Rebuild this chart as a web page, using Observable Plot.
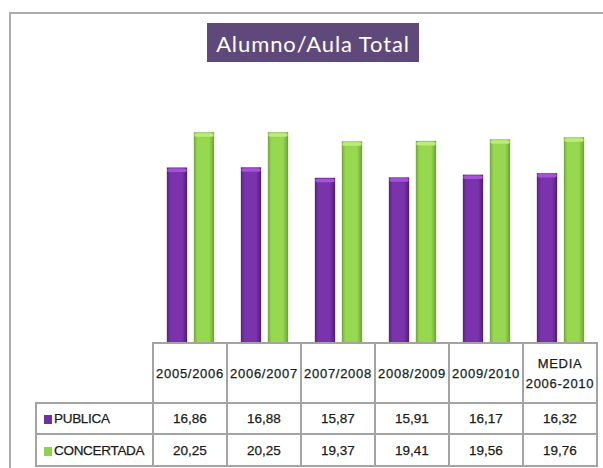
<!DOCTYPE html>
<html>
<head>
<meta charset="utf-8">
<script src="https://cdn.jsdelivr.net/npm/d3@7"></script>
<script src="https://cdn.jsdelivr.net/npm/@observablehq/plot@0.6"></script>
<style>
  html, body { margin: 0; padding: 0; background: #fff; }
  #wrap { position: relative; width: 603px; height: 468px; overflow: hidden; background: #fff; }
  #chart { position: absolute; left: 0; top: 0; }
  #frame { position: absolute; left: 9px; top: 12px; width: 700px; height: 600px;
           border-left: 2px solid #acacac; border-top: 2px solid #acacac; }
  #title { position: absolute; left: 207px; top: 23px; width: 212px; height: 39px;
           background: #5f497a; color: #fff; font-family: Lato, "Noto Sans", sans-serif;
           font-size: 22px; letter-spacing: 0.9px; display: flex; align-items: center;
           justify-content: center; box-sizing: border-box; padding-top: 1px; }
  #tbl { position: absolute; border-collapse: collapse; table-layout: fixed;
         font-family: "Liberation Sans", Arial, sans-serif; color: #1a1a1a;
         -webkit-text-stroke: 0.25px #1a1a1a; }
  #tbl td { border: 2px solid #a3a3a3; text-align: center; padding: 0; white-space: nowrap;
            overflow: visible; box-sizing: border-box; }
  #tbl td.blank { border-top: none; border-left: none; }
  #tbl tr.head td { font-size: 13px; letter-spacing: 0.7px; height: 60px; line-height: 20px; padding-top: 2px; }
  #tbl tr.val td { font-size: 13.5px; }
  #tbl tr.r1 td { height: 31px; }
  #tbl tr.r2 td { height: 32px; }
  #tbl td.lab { text-align: left; padding-left: 7px; font-size: 12.5px; letter-spacing: -0.3px; }
  .sw { display: inline-block; width: 8px; height: 9px; margin-right: 2px; vertical-align: -1px; }
</style>
</head>
<body>
<div id="wrap">
  <div id="chart"></div>
  <div id="title">Alumno/Aula Total</div>
  <div id="frame"></div>
</div>
<script>
const categories = ["2005/2006", "2006/2007", "2007/2008", "2008/2009", "2009/2010", "MEDIA\n2006-2010"];
const series = ["PUBLICA", "CONCERTADA"];
const publica = [16.86, 16.88, 15.87, 15.91, 16.17, 16.32];
const concertada = [20.25, 20.25, 19.37, 19.41, 19.56, 19.76];
const seriesColors = ["#7030a0", "#92d050"];

const rows = [];
categories.forEach((c, i) => {
  rows.push({cat: c, serie: series[0], value: publica[i]});
  rows.push({cat: c, serie: series[1], value: concertada[i]});
});
const pub = rows.filter(d => d.serie === series[0]);
const con = rows.filter(d => d.serie === series[1]);

const plot = Plot.plot({
  width: 603,
  height: 345,
  marginTop: 83,
  marginBottom: 2,
  marginLeft: 150,
  marginRight: 4,
  style: {background: "transparent", overflow: "visible"},
  fx: {domain: categories, padding: 0, axis: null},
  x: {domain: series, paddingInner: 0.27, paddingOuter: 0.5, axis: null},
  y: {domain: [0, 25], axis: null},
  marks: [
    Plot.barY(pub, {fx: "cat", x: "serie", y: "value", fill: "url(#gPub)", stroke: "#4a1a6e", strokeOpacity: 0.35, strokeWidth: 0.8}),
    Plot.barY(con, {fx: "cat", x: "serie", y: "value", fill: "url(#gCon)", stroke: "#5f8f2c", strokeOpacity: 0.35, strokeWidth: 0.8}),
    Plot.tickY(pub, {fx: "cat", x: "serie", y: "value", stroke: "#a452d8", strokeWidth: 3.5, dy: 2, insetLeft: 2, insetRight: 2, strokeLinecap: "round"}),
    Plot.tickY(con, {fx: "cat", x: "serie", y: "value", stroke: "#baec78", strokeWidth: 3.5, dy: 2, insetLeft: 2, insetRight: 2, strokeLinecap: "round"})
  ]
});

d3.select(plot).insert("defs", ":first-child").html(`
  <linearGradient id="gPub" x1="0" x2="1" y1="0" y2="0">
    <stop offset="0" stop-color="#5b2288"/>
    <stop offset="0.18" stop-color="#7a33aa"/>
    <stop offset="0.75" stop-color="#7a33aa"/>
    <stop offset="1" stop-color="#521c7c"/>
  </linearGradient>
  <linearGradient id="gCon" x1="0" x2="1" y1="0" y2="0">
    <stop offset="0" stop-color="#74ad3a"/>
    <stop offset="0.18" stop-color="#98d850"/>
    <stop offset="0.75" stop-color="#98d850"/>
    <stop offset="1" stop-color="#6ea436"/>
  </linearGradient>`);

document.getElementById("chart").appendChild(plot);

// data table aligned to the fx scale
const fxs = plot.scale("fx");
const colW = fxs.step;
const tableLeft = 36;
const firstW = fxs.apply(categories[0]) - tableLeft;
const fmt = v => v.toFixed(2).replace(".", ",");

const tbl = document.createElement("table");
tbl.id = "tbl";
tbl.style.left = (tableLeft - 1) + "px";
tbl.style.top = "342px";
tbl.style.width = (firstW + colW * categories.length) + "px";
const cg = document.createElement("colgroup");
[firstW, ...categories.map(() => colW)].forEach(w => {
  const col = document.createElement("col");
  col.style.width = w + "px";
  cg.appendChild(col);
});
tbl.appendChild(cg);

const head = document.createElement("tr");
head.className = "head";
const blank = document.createElement("td");
blank.className = "blank";
head.appendChild(blank);
categories.forEach(c => {
  const td = document.createElement("td");
  td.innerHTML = c.split("\n").join("<br>");
  head.appendChild(td);
});
tbl.appendChild(head);

[publica, concertada].forEach((vals, si) => {
  const tr = document.createElement("tr");
  tr.className = "val r" + (si + 1);
  const lab = document.createElement("td");
  lab.className = "lab";
  lab.innerHTML = `<span class="sw" style="background:${seriesColors[si]}"></span>${series[si]}`;
  tr.appendChild(lab);
  vals.forEach(v => {
    const td = document.createElement("td");
    td.textContent = fmt(v);
    tr.appendChild(td);
  });
  tbl.appendChild(tr);
});
document.getElementById("wrap").appendChild(tbl);
</script>
</body>
</html>
